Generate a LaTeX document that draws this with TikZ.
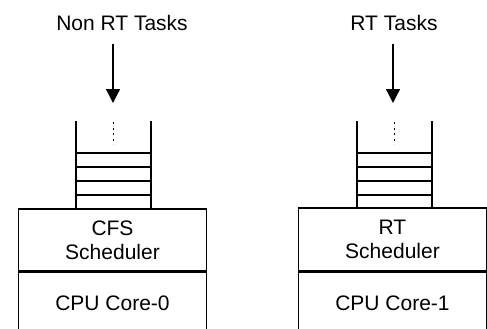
\documentclass[tikz,border=0pt]{standalone}
\usepackage{fontspec}
\setmainfont{Liberation Sans}
\usetikzlibrary{arrows.meta,positioning}

\begin{document}
\begin{tikzpicture}[x=1pt,y=-1pt,line width=1.3pt,
        font=\fontsize{21}{24}\selectfont,
        box/.style={draw,rectangle,text centered,align=center,
            minimum width=188pt,inner sep=0pt},
        feed/.style={-{Triangle[width=14pt,length=14pt]},shorten <=9pt}]
        \useasboundingbox (0,0) rectangle (487,329);
        \clip (0,0) rectangle (487,329);
        % left core: normal tasks through CFS
        \node (nonrt) at (122,23) {Non RT Tasks};
        \coordinate (cfsin) at (113,103);
        \node[box,minimum height=62pt] (cfs) at (112.5,240) {CFS\\Scheduler};
        \node[box,minimum height=62pt,below=0pt of cfs] (core0) {CPU Core-0};
        \draw [feed] (nonrt.south -| cfsin) -- (cfsin);
        % right core: real time tasks
        \node (rt) at (394,23) {RT Tasks};
        \coordinate (rtin) at (393,103);
        \node[box,minimum height=63pt] (rtsched) at (392.5,239.5) {RT\\Scheduler};
        \node[box,minimum height=62pt,below=0pt of rtsched] (core1) {CPU Core-1};
        \draw [feed] (rt.south -| rtin) -- (rtin);
        % run queues sitting on the schedulers
        \foreach \qx in {113.5,394.5} {
            \draw (\qx-37.5,121) -- (\qx-37.5,209);
            \draw (\qx+37.5,121) -- (\qx+37.5,209);
            \foreach \ry in {153,167,181,195}
                \draw (\qx-37.5,\ry) -- (\qx+37.5,\ry);
            \draw [line width=1pt,dash pattern=on 2pt off 3.5pt] (\qx,122) -- (\qx,144);
        }
\end{tikzpicture}
\end{document}
